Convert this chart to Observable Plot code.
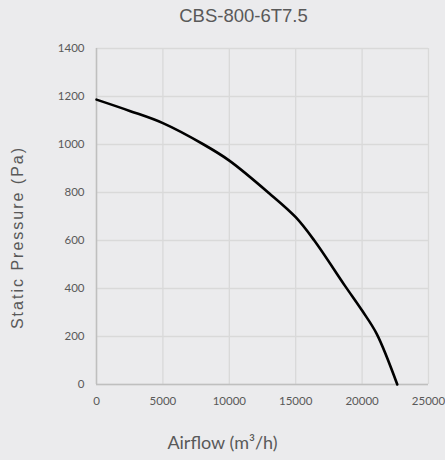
<!DOCTYPE html>
<html>
<head>
<meta charset="utf-8">
<script src="https://cdn.jsdelivr.net/npm/d3@7"></script>
<script src="https://cdn.jsdelivr.net/npm/@observablehq/plot@0.6"></script>
<style>
  html, body { margin: 0; padding: 0; background: #ebebed; }
  #chart { width: 445px; height: 460px; }
</style>
</head>
<body>
<div id="chart"></div>
<script>
const title = "CBS-800-6T7.5";
const xLabel = "Airflow (m³/h)";
const yLabel = "Static Pressure (Pa)";
const xTicks = [0, 5000, 10000, 15000, 20000, 25000];
const yTicks = [0, 200, 400, 600, 800, 1000, 1200, 1400];
const airflow  = [0, 2500, 5000, 8070, 10000, 13000, 15000, 16400, 18700, 20000, 21100, 22650];
const pressure = [1187, 1140, 1089, 1000, 933, 797, 697, 600, 412, 308, 211, 0];

const data = airflow.map((x, i) => ({x, y: pressure[i]}));

const chart = Plot.plot({
  width: 445,
  height: 460,
  marginLeft: 96,
  marginRight: 17,
  marginTop: 48,
  marginBottom: 76,
  style: {background: "#ebebed", fontFamily: "Lato, sans-serif"},
  x: {domain: [0, 25000], ticks: xTicks, label: null},
  y: {domain: [0, 1400], ticks: yTicks, label: null},
  marks: [
    Plot.gridX(xTicks, {stroke: "#d9d9d9", strokeOpacity: 1, strokeWidth: 1.3}),
    Plot.gridY(yTicks, {stroke: "#d9d9d9", strokeOpacity: 1, strokeWidth: 1.3}),
    Plot.ruleX([0], {stroke: "#bfbfbf", strokeWidth: 1.5}),
    Plot.ruleY([0], {stroke: "#bfbfbf", strokeWidth: 1.5}),
    Plot.axisX(xTicks, {tickSize: 0, tickPadding: 12, fontSize: 11.5, fill: "#595959", tickFormat: d => String(d), label: null}),
    Plot.axisY(yTicks, {tickSize: 0, tickPadding: 12, fontSize: 11.5, fill: "#595959", tickFormat: d => String(d), label: null}),
    Plot.line(data, {x: "x", y: "y", stroke: "#000", strokeWidth: 2.6, curve: "catmull-rom"}),
    Plot.text([title], {frameAnchor: "top", lineAnchor: "middle", textAnchor: "middle", dx: -19, dy: -32, fontSize: 18.5, fill: "#595959", fontFamily: "Liberation Sans, Arial, sans-serif"}),
    Plot.text([xLabel], {frameAnchor: "bottom", lineAnchor: "middle", textAnchor: "middle", dx: -40, dy: 59, fontSize: 18, fill: "#595959"}),
    Plot.text([yLabel], {frameAnchor: "left", lineAnchor: "middle", textAnchor: "middle", dx: -79, dy: 21, rotate: -90, fontSize: 16, fill: "#595959", fontFamily: "Liberation Sans, Arial, sans-serif"})
  ]
});
d3.select(chart).selectAll("text").filter(function() { return this.textContent === yLabel; })
  .style("letter-spacing", "2px");
document.getElementById("chart").append(chart);
</script>
</body>
</html>
